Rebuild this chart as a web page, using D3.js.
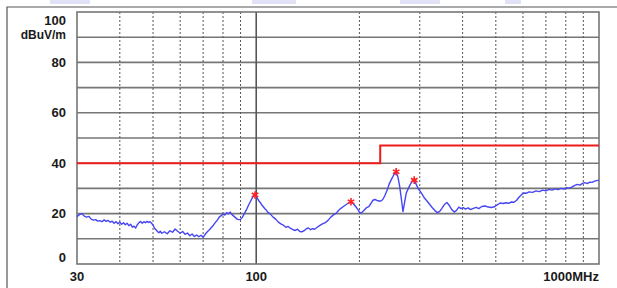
<!DOCTYPE html>
<html>
<head>
<meta charset="utf-8">
<script src="https://cdn.jsdelivr.net/npm/d3@7"></script>
<style>
  body { margin: 0; background: #fff; }
  text { font-family: "Liberation Sans", Arial, sans-serif; font-weight: bold; fill: #1a1a1a; }
</style>
</head>
<body>
<div id="chart"></div>
<script>
var traceFreq = [30, 30.5, 31, 31.5, 32, 32.5, 33, 33.5, 34, 34.5, 35, 35.5, 36, 36.5, 37, 37.5, 38, 38.5, 39, 39.5,
    40, 40.5, 41, 41.5, 42, 42.5, 43, 43.5, 44, 44.5, 45, 45.5, 46, 46.5, 47, 47.5, 48, 48.5, 49, 49.5,
    50, 50.5, 51, 51.5, 52, 52.5, 53, 54, 55, 56, 57, 58, 59, 60, 61, 62, 63, 64, 65, 66, 67, 68, 69, 70,
    71, 72, 73, 74, 75, 76, 77, 78, 79, 80, 81, 82, 83, 84, 85, 86, 87, 88, 89, 90,
    91, 92, 93, 94, 95, 96, 97, 98, 99, 100, 101, 102, 103, 104, 105, 106, 107, 108, 110, 112,
    114, 116, 118, 120, 122, 124, 126, 128, 130, 132, 134, 136, 138, 140, 142, 144, 146, 148, 150, 153,
    156, 159, 162, 165, 168, 171, 174, 177, 180, 183, 186, 189, 192, 195, 198, 201, 204, 207, 210, 213,
    216, 219, 222, 225, 228, 231, 234, 237, 240, 242, 244, 248, 252, 256, 259, 262, 265, 268, 271, 274,
    277, 281, 285, 289, 293, 297, 301, 305, 309, 314, 320, 326, 332, 338, 343, 348, 354, 360, 366, 372,
    378, 384, 390, 396, 402, 408, 415, 422, 430, 438, 446, 455, 465, 475, 485, 495, 505, 515, 525, 535,
    545, 555, 565, 575, 585, 595, 605, 615, 625, 640, 655, 670, 685, 700, 715, 730, 745, 760, 775, 790,
    805, 820, 835, 850, 865, 880, 895, 910, 925, 940, 955, 970, 985, 1000];
var traceLevel = [18.8, 19.6, 20.0, 19.0, 18.6, 18.9, 17.8, 17.4, 17.6, 17.0, 17.2, 16.8, 17.5, 16.9, 17.3, 16.6, 17.0, 16.2, 16.8, 16.0,
    16.6, 15.8, 16.4, 15.6, 16.2, 15.2, 15.8, 14.6, 15.0, 14.3, 15.6, 16.4, 16.9, 16.2, 16.8, 16.4, 16.9, 16.5, 16.8, 16.2,
    15.5, 14.2, 13.6, 12.9, 12.4, 13.0, 12.2, 12.8, 12.0, 13.2, 12.6, 13.9, 13.0, 12.2, 12.9, 11.8, 12.3, 11.2, 11.9, 10.9, 11.5, 10.8, 11.4, 10.6,
    11.8, 12.8, 13.6, 14.5, 15.4, 16.5, 17.4, 18.6, 19.2, 19.8, 19.4, 20.4, 19.9, 20.6, 19.6, 19.0, 18.4, 17.8, 17.6, 17.7,
    18.4, 19.6, 20.8, 22.0, 23.4, 24.6, 25.8, 26.8, 27.4, 26.8, 25.8, 24.9, 24.2, 23.3, 22.6, 21.9, 21.4, 20.6, 19.8, 18.6,
    17.8, 16.6, 15.9, 15.4, 14.6, 14.9, 14.1, 13.6, 13.3, 13.8, 12.9, 12.8, 13.2, 14.0, 14.3, 13.6, 14.0, 13.8, 14.4, 15.2,
    15.9, 16.4, 17.3, 18.6, 19.5, 20.1, 21.3, 22.2, 22.9, 23.6, 24.2, 24.7, 23.9, 22.8, 21.6, 20.2, 20.6, 21.5, 22.4, 22.8,
    24.0, 25.3, 25.6, 25.2, 25.0, 25.0, 25.6, 27.0, 28.8, 30.0, 31.6, 33.6, 35.4, 36.6, 34.6, 31.0, 26.0, 20.8, 24.6, 28.2,
    29.6, 31.4, 32.8, 33.3, 31.6, 29.8, 28.8, 27.6, 26.3, 25.2, 23.8, 22.4, 21.2, 20.4, 20.9, 22.1, 23.6, 24.4, 23.2, 21.6,
    20.6, 21.3, 22.6, 22.0, 22.4, 21.8, 22.3, 21.6, 22.1, 22.5, 22.0, 22.8, 23.0, 22.6, 22.4, 22.7, 23.5, 24.2, 24.0, 24.3,
    24.1, 24.6, 24.5, 25.3, 26.6, 27.6, 28.2, 28.1, 28.6, 28.4, 29.0, 28.7, 29.3, 29.0, 29.6, 29.3, 29.8, 29.5, 30.0, 29.7,
    30.3, 30.1, 30.6, 31.2, 31.6, 31.3, 32.0, 32.3, 31.9, 32.5, 32.4, 32.9, 33.1, 33.3];

// limit line
var limitFreq = [30, 230, 230, 1000];
var limitLevel = [40, 40, 47, 47];

// marked peaks
var peakFreq = [99.2, 189, 256, 289];
var peakLevel = [27.4, 24.7, 36.6, 33.3];

// axes
var yTicks = [0, 20, 40, 60, 80, 100];
var yGrid = [10, 20, 30, 40, 50, 60, 70, 80, 90];
var xMinor = [40, 50, 60, 70, 80, 90, 200, 300, 400, 500, 600, 700, 800, 900];
var xLabels = ["30", "100", "1000MHz"];
var xLabelFreq = [30, 100, 1000];
var yUnit = "dBuV/m";

var attrs = {
    width: 617,
    height: 288,
    plot: { left: 77, right: 599, top: 12, bottom: 264 }
};

var svg = d3.select("#chart").append("svg")
    .attr("width", attrs.width)
    .attr("height", attrs.height);

var x = d3.scaleLog().domain([30, 1000]).range([attrs.plot.left, attrs.plot.right]);
var y = d3.scaleLinear().domain([0, 100]).range([attrs.plot.bottom, attrs.plot.top]);

// faint watermark fragments along the top edge
var marks = [[50, 40], [252, 44], [400, 40], [505, 16]];
svg.selectAll(".wm").data(marks).enter().append("rect")
    .attr("x", function(d) { return d[0]; })
    .attr("y", 0)
    .attr("width", function(d) { return d[1]; })
    .attr("height", 4)
    .attr("fill", "#e2e2f6");

// outer frame (top and left only visible)
svg.append("path")
    .attr("d", "M7,288V7H617")
    .attr("fill", "none")
    .attr("stroke", "#555")
    .attr("stroke-width", 1.2);

var g = svg.append("g");

// horizontal grid
g.selectAll(".hgrid").data(yGrid).enter().append("line")
    .attr("x1", attrs.plot.left).attr("x2", attrs.plot.right)
    .attr("y1", function(d) { return y(d); })
    .attr("y2", function(d) { return y(d); })
    .attr("stroke", "#767676")
    .attr("stroke-width", 1.6);

// vertical dashed grid
g.selectAll(".vgrid").data(xMinor).enter().append("line")
    .attr("x1", function(d) { return x(d); })
    .attr("x2", function(d) { return x(d); })
    .attr("y1", attrs.plot.top).attr("y2", attrs.plot.bottom)
    .attr("stroke", "#555")
    .attr("stroke-width", 1)
    .attr("stroke-dasharray", "2,2");

// decade line at 100 MHz
g.append("line")
    .attr("x1", x(100)).attr("x2", x(100))
    .attr("y1", attrs.plot.top).attr("y2", attrs.plot.bottom)
    .attr("stroke", "#555")
    .attr("stroke-width", 1.6);

// plot border
g.append("rect")
    .attr("x", attrs.plot.left).attr("y", attrs.plot.top)
    .attr("width", attrs.plot.right - attrs.plot.left)
    .attr("height", attrs.plot.bottom - attrs.plot.top)
    .attr("fill", "none")
    .attr("stroke", "#767676")
    .attr("stroke-width", 1.6);

// limit line
var limit = limitFreq.map(function(f, i) { return [f, limitLevel[i]]; });
g.append("path")
    .datum(limit)
    .attr("d", d3.line().x(function(d) { return x(d[0]); }).y(function(d) { return y(d[1]); }))
    .attr("fill", "none")
    .attr("stroke", "#ee1c1c")
    .attr("stroke-width", 2);

// measured trace
var trace = traceFreq.map(function(f, i) { return [f, traceLevel[i]]; });
g.append("path")
    .datum(trace)
    .attr("d", d3.line().x(function(d) { return x(d[0]); }).y(function(d) { return y(d[1]); }))
    .attr("fill", "none")
    .attr("stroke", "#4646f5")
    .attr("stroke-width", 1.4)
    .attr("stroke-linejoin", "round");

// peak markers
var sym = d3.symbol().type(d3.symbolAsterisk).size(40);
g.selectAll(".peak").data(peakFreq).enter().append("path")
    .attr("d", sym)
    .attr("transform", function(d, i) { return "translate(" + x(d) + "," + y(peakLevel[i]) + ")"; })
    .attr("fill", "none")
    .attr("stroke", "#ff2020")
    .attr("stroke-width", 1.6);

// y labels, clamped inside the plot
g.selectAll(".ylab").data(yTicks).enter().append("text")
    .attr("x", 66)
    .attr("y", function(d) { return Math.min(Math.max(y(d), 20), 257); })
    .attr("dy", "0.36em")
    .attr("text-anchor", "end")
    .style("font-size", "13px")
    .text(function(d) { return d; });

g.append("text")
    .attr("x", 66).attr("y", 35)
    .attr("dy", "0.36em")
    .attr("text-anchor", "end")
    .style("font-size", "12px")
    .text(yUnit);

// x labels
g.selectAll(".xlab").data(xLabels).enter().append("text")
    .attr("x", function(d, i) { return x(xLabelFreq[i]); })
    .attr("y", 276)
    .attr("dy", "0.36em")
    .attr("text-anchor", function(d, i) { return i === xLabels.length - 1 ? "end" : "middle"; })
    .style("font-size", "13px")
    .text(function(d) { return d; });
</script>
</body>
</html>
